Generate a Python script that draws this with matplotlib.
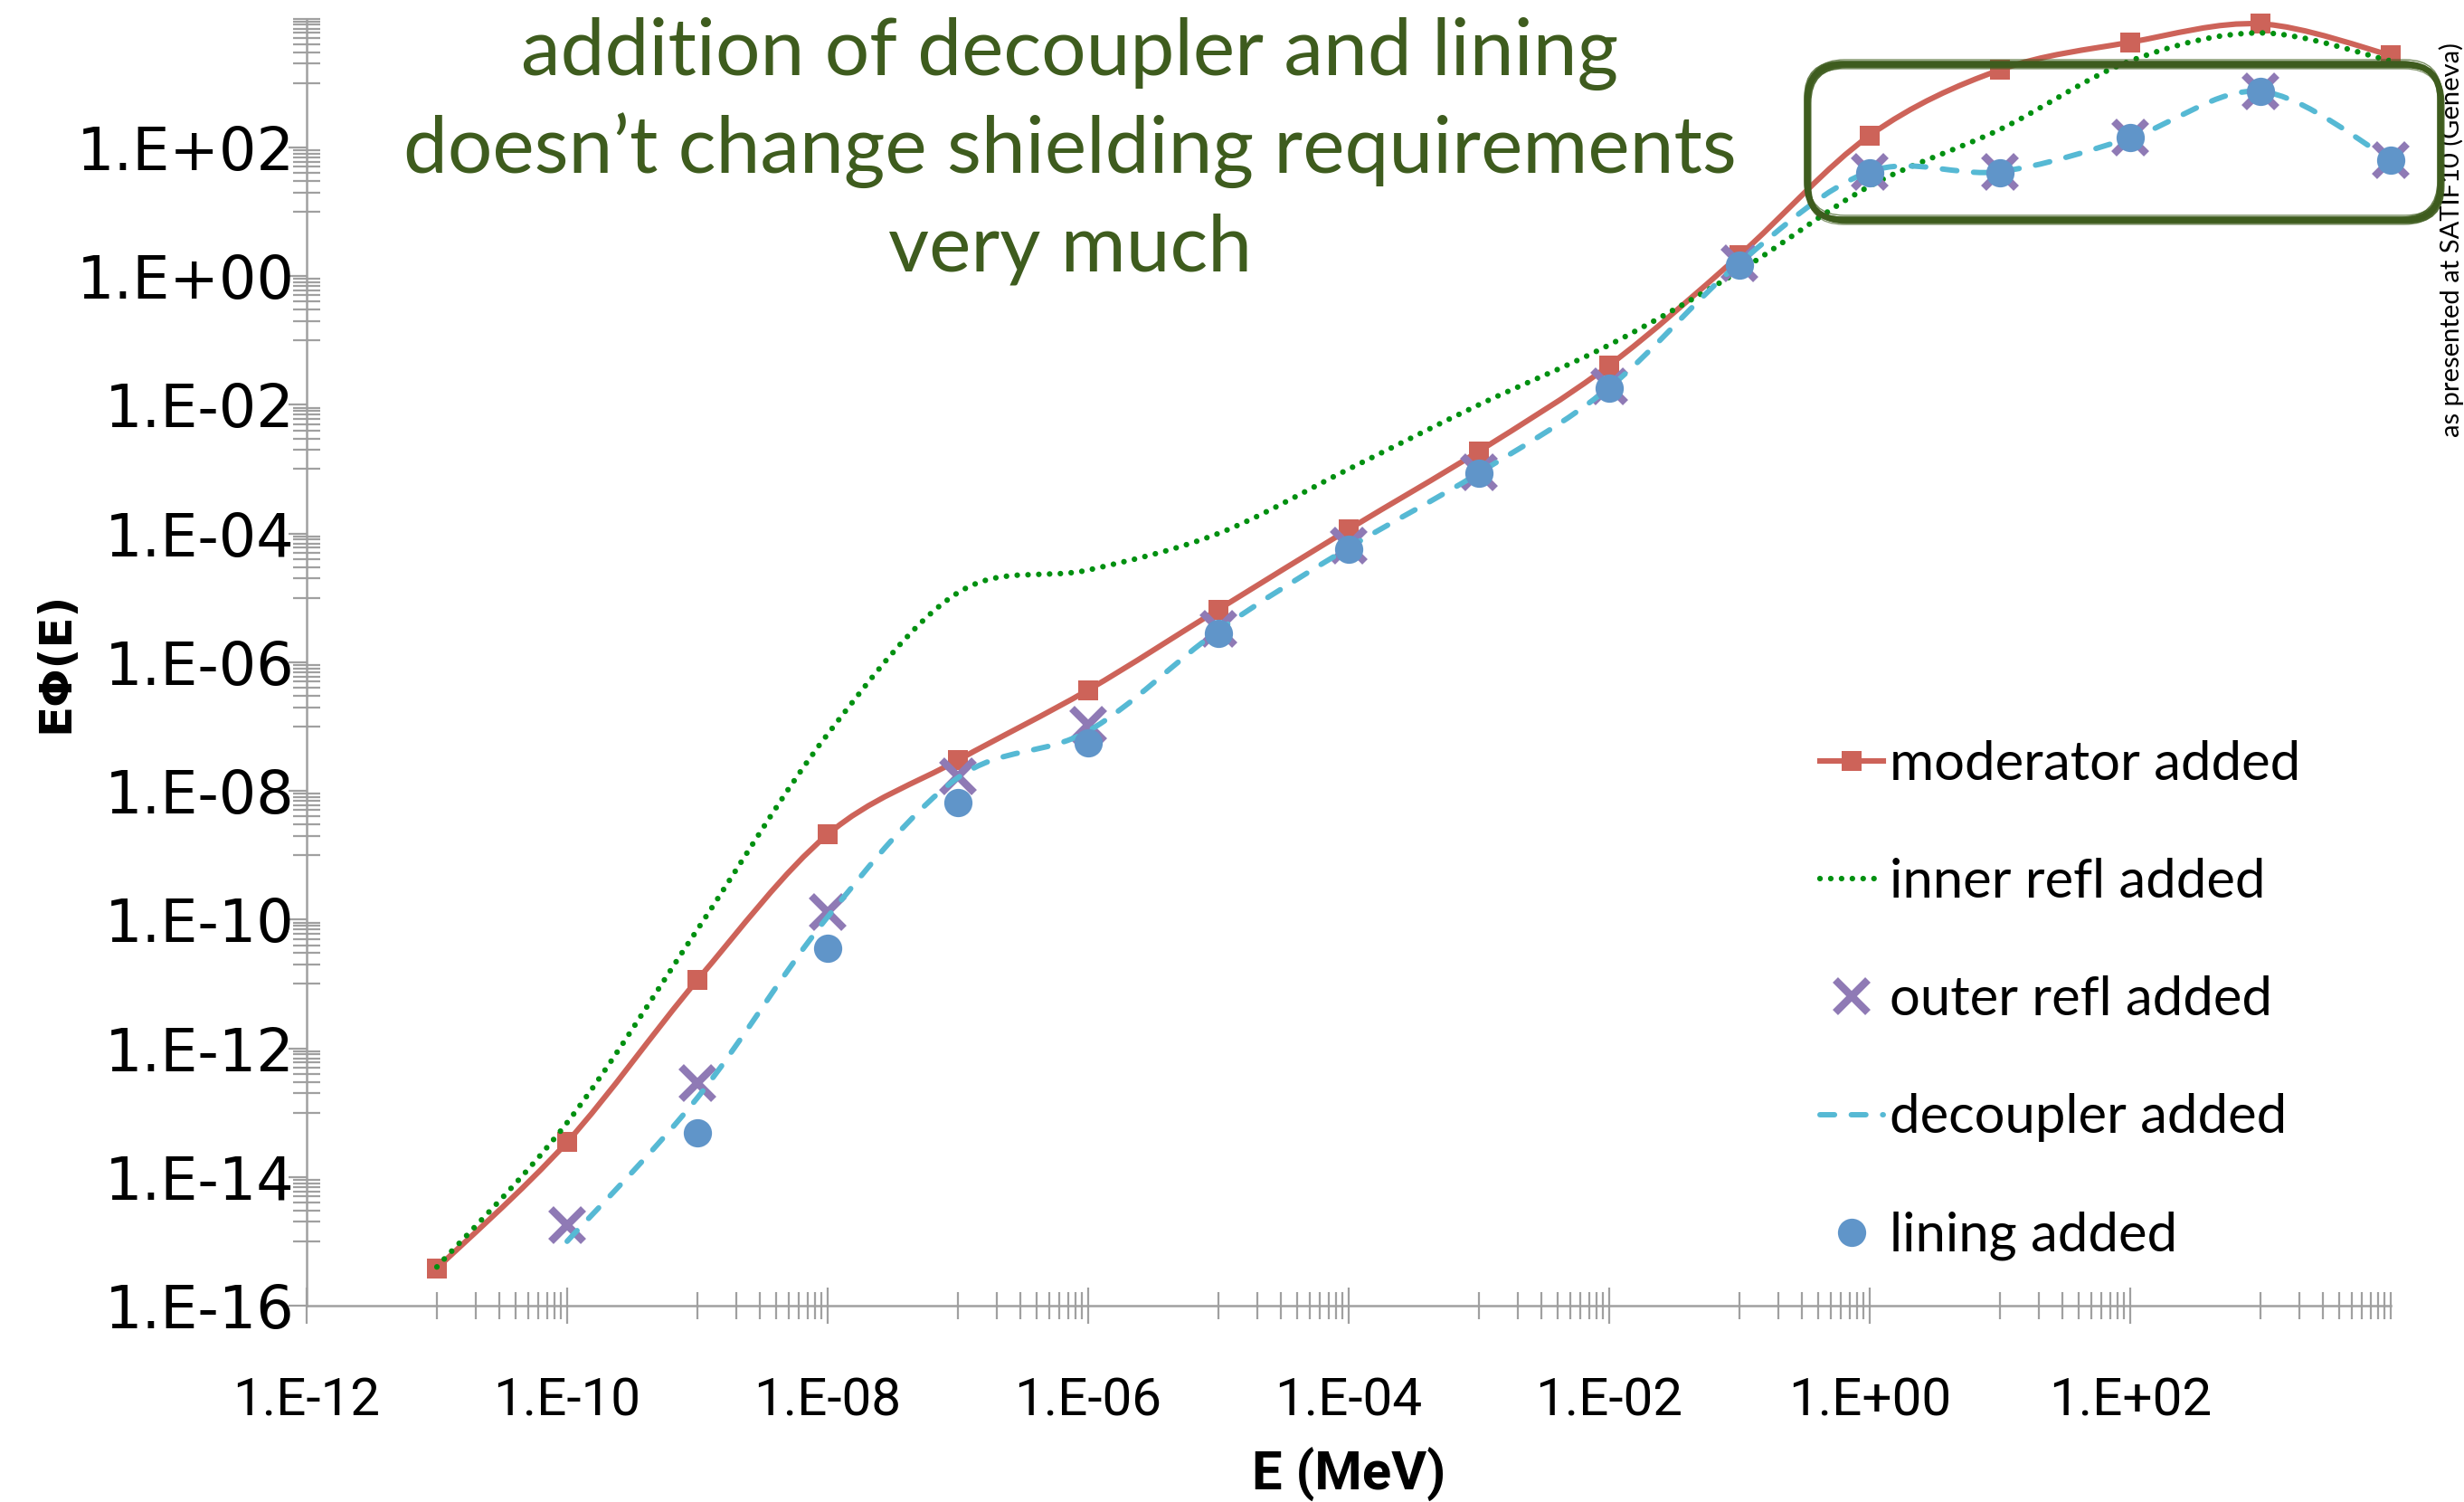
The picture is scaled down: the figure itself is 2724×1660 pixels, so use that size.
import numpy as np
import matplotlib
matplotlib.use("Agg")
import matplotlib.pyplot as plt
from matplotlib.path import Path
from matplotlib.patches import PathPatch, FancyBboxPatch
from matplotlib.lines import Line2D
import matplotlib.transforms as mtransforms
from matplotlib.ticker import FixedLocator, NullFormatter

# ---------------- data ----------------
energy = [1e-11, 1e-10, 1e-9, 1e-8, 1e-7, 1e-6, 1e-5, 1e-4,
          1e-3, 1e-2, 1e-1, 1e0, 1e1, 1e2, 1e3, 1e4]
moderator = [3.8e-16, 3.5e-14, 1.15e-11, 2.1e-9, 3.0e-8, 3.7e-7, 6.6e-6, 1.16e-4,
             1.9e-3, 4.1e-2, 2.1, 153, 1.6e3, 4.3e3, 8.3e3, 2.7e3]
inner_refl = [4.0e-16, 7.0e-14, 7.0e-11, 7.6e-8, 1.2e-5, 2.7e-5, 1.0e-4, 1.0e-3,
              1.0e-2, 8.5e-2, 1.2, 25, 190, 2.2e3, 6.0e3, 2.2e3]
energy_outer = [1e-10, 1e-9, 1e-8, 1e-7, 1e-6, 1e-5, 1e-4,
                1e-3, 1e-2, 1e-1, 1e0, 1e1, 1e2, 1e3, 1e4]
outer_refl = [1.8e-15, 2.9e-13, 1.3e-10, 1.7e-8, 1.05e-7, 3.3e-6, 6.5e-5,
              9.0e-4, 1.9e-2, 1.6, 42, 42, 140, 750, 64]
energy_decoupler = [1e-10, 1e-9, 1e-8, 1e-7, 1e-6, 1e-5, 1e-4,
                    1e-3, 1e-2, 1e-1, 1e0, 1e1, 1e2, 1e3, 1e4]
decoupler = [1.0e-15, 1.7e-13, 1.1e-10, 1.6e-8, 8.5e-8, 3.1e-6, 6.0e-5,
             8.7e-4, 1.85e-2, 1.6, 42, 42, 140, 740, 64]
energy_lining = [1e-9, 1e-8, 1e-7, 1e-6, 1e-5, 1e-4,
                 1e-3, 1e-2, 1e-1, 1e0, 1e1, 1e2, 1e3, 1e4]
lining = [4.8e-14, 3.6e-11, 6.5e-9, 5.5e-8, 2.8e-6, 5.6e-5,
          8.5e-4, 1.8e-2, 1.5, 40, 40, 140, 730, 64]

series_names = ["moderator added", "inner refl added", "outer refl added",
                "decoupler added", "lining added"]
x_tick_values = [1e-12, 1e-10, 1e-8, 1e-6, 1e-4, 1e-2, 1e0, 1e2]
x_tick_labels = ["1.E-12", "1.E-10", "1.E-08", "1.E-06", "1.E-04",
                 "1.E-02", "1.E+00", "1.E+02"]
y_tick_values = [1e-16, 1e-14, 1e-12, 1e-10, 1e-8, 1e-6, 1e-4, 1e-2, 1e0, 1e2]
y_tick_labels = ["1.E-16", "1.E-14", "1.E-12", "1.E-10", "1.E-08", "1.E-06",
                 "1.E-04", "1.E-02", "1.E+00", "1.E+02"]
title_lines = ["addition of decoupler and lining",
               "doesn\u2019t change shielding requirements",
               "very much"]
side_note = "as presented at SATIF10 (Geneva)"

# ---------------- styles ----------------
RED = "#CD6359"
GREEN = "#009010"
PURPLE = "#8F7AB5"
CYAN = "#56B9D4"
BLUE = "#6095C9"
GRAY = "#A0A0A0"
TITLE_GREEN = "#3E5C1E"
W, H = 2724, 1660
DPI = 100

fig = plt.figure(figsize=(W / DPI, H / DPI), dpi=DPI)
fig.patch.set_facecolor("white")

ax_left, ax_right = 339 / W, 2643 / W
ax_bottom, ax_top = 1 - 1443 / H, 1 - 20.6 / H
ax = fig.add_axes([ax_left, ax_bottom, ax_right - ax_left, ax_top - ax_bottom])
ax.set_xscale("log")
ax.set_yscale("log")
ax.set_xlim(1e-12, 1e4)
ax.set_ylim(1e-16, 1e4)
ax.patch.set_alpha(0)


def smooth_path(x, y):
    """Excel-like smoothed line: cubic Bezier (Catmull-Rom) in log-log space."""
    P = np.column_stack([np.log10(x), np.log10(y)])
    n = len(P)
    verts = [P[0]]
    codes = [Path.MOVETO]
    for i in range(n - 1):
        p0 = P[i - 1] if i > 0 else P[i]
        p1, p2 = P[i], P[i + 1]
        p3 = P[i + 2] if i + 2 < n else P[i + 1]
        verts += [p1 + (p2 - p0) / 6.0, p2 - (p3 - p1) / 6.0, p2]
        codes += [Path.CURVE4] * 3
    return Path(10.0 ** np.array(verts), codes)


RED_LW, GREEN_LW, CYAN_LW = 4.4, 4.5, 4.3
GREEN_DOTS = (0, (0.01, 1.9))
CYAN_DASH = (0, (2.7, 3.1))
SQ_MS, X_MS, X_MEW, O_MS = 16.5, 26, 6.0, 22.5

# moderator: smoothed line + squares
ax.add_patch(PathPatch(smooth_path(energy, moderator), fill=False, edgecolor=RED,
                       lw=RED_LW, capstyle="round", joinstyle="round", zorder=3))
ax.plot(energy, moderator, linestyle="none", marker="s", ms=SQ_MS,
        mfc=RED, mec=RED, mew=0, zorder=3.1, clip_on=False)

# inner refl: dotted smoothed line
p = PathPatch(smooth_path(energy, inner_refl), fill=False, edgecolor=GREEN,
              lw=GREEN_LW, linestyle=GREEN_DOTS, zorder=4)
p.set_capstyle("round")
ax.add_patch(p)

# outer refl: x markers only
ax.plot(energy_outer, outer_refl, linestyle="none", marker="x", ms=X_MS, mew=X_MEW,
        color=PURPLE, zorder=5, clip_on=False)

# decoupler: dashed smoothed line
p = PathPatch(smooth_path(energy_decoupler, decoupler), fill=False, edgecolor=CYAN,
              lw=CYAN_LW, linestyle=CYAN_DASH, zorder=6)
p.set_capstyle("round")
ax.add_patch(p)

# lining: circles only
ax.plot(energy_lining, lining, linestyle="none", marker="o", ms=O_MS,
        mfc=BLUE, mec=BLUE, mew=0, zorder=7, clip_on=False)

# ---------------- axes / ticks ----------------
for s in ("top", "right"):
    ax.spines[s].set_visible(False)
for s in ("left", "bottom"):
    ax.spines[s].set_color(GRAY)
    ax.spines[s].set_linewidth(1.8)

x_minor = [k * 10.0 ** d for d in range(-11, 4, 2) for k in range(1, 10)] + [1e4]
y_minor = [k * 10.0 ** d for d in range(-15, 4, 2) for k in range(1, 10)] + [1e4]

ax.set_xticks(x_tick_values, labels=x_tick_labels, fontsize=42,
              fontfamily=["Roboto", "DejaVu Sans"])
ax.set_yticks(y_tick_values, labels=y_tick_labels, fontsize=47,
              fontfamily=["DejaVu Sans"])
ax.xaxis.set_minor_locator(FixedLocator(x_minor))
ax.yaxis.set_minor_locator(FixedLocator(y_minor))
ax.xaxis.set_minor_formatter(NullFormatter())
ax.yaxis.set_minor_formatter(NullFormatter())

ax.tick_params(axis="x", which="major", direction="inout", length=28.8, width=1.6,
               color=GRAY, pad=42)
ax.tick_params(axis="x", which="minor", direction="inout", length=21.6, width=1.6,
               color=GRAY)
ax.tick_params(axis="y", which="major", direction="out", length=14.4, width=1.6,
               color=GRAY, pad=-5)
ax.tick_params(axis="y", which="minor", direction="inout", length=21.6, width=1.6,
               color=GRAY)

ax.set_xlabel("E (MeV)", fontsize=43, fontweight="bold",
              fontfamily=["Roboto", "DejaVu Sans"], va="center")
ax.xaxis.set_label_coords(0.5, (1443 - 1630) / (1443 - 20.6))
ax.set_ylabel("E\u03a6(E)", fontsize=36, fontweight="bold",
              fontfamily=["DejaVu Sans"], va="center")
ax.yaxis.set_label_coords((61 - 339) / (2643 - 339), 0.5)

# ---------------- legend ----------------
handles = [
    Line2D([], [], color=RED, lw=RED_LW, marker="s", ms=SQ_MS, mfc=RED, mec=RED, mew=0),
    Line2D([], [], color=GREEN, lw=GREEN_LW, linestyle=GREEN_DOTS,
           dash_capstyle="round"),
    Line2D([], [], color=PURPLE, linestyle="none", marker="x", ms=X_MS, mew=X_MEW),
    Line2D([], [], color=CYAN, lw=CYAN_LW, linestyle=CYAN_DASH,
           dash_capstyle="round"),
    Line2D([], [], color=BLUE, linestyle="none", marker="o", ms=O_MS, mew=0),
]
fig.legend(handles, series_names, loc="upper left",
           bbox_to_anchor=(2012 / W, 1 - 818 / H), frameon=False,
           prop={"family": "Lato", "size": 43}, handlelength=1.17,
           handletextpad=0.12, labelspacing=1.275, borderpad=0, borderaxespad=0,
           numpoints=1)

# ---------------- title and notes ----------------
for line, base in zip(title_lines, [83, 191, 299]):
    fig.text(1183 / W, 1 - base / H, line, ha="center", va="baseline",
             color=TITLE_GREEN, fontsize=63, family="Lato")

fig.text(2723.5 / W, 1 - 483 / H, side_note, rotation=90, ha="right", va="bottom",
         fontsize=21, family="Lato", color="black")

# hand-drawn looking rounded box
ident = mtransforms.IdentityTransform()
bx0, bx1, btop, bbot = 1998, 2698, 71, 243
for dx, dy, lw, a in [(0, 0, 5.0, 1.0), (3, -3, 2.2, 0.9), (-3, 3, 1.2, 0.8),
                      (1, 5, 1.0, 0.7), (0, -5, 1.0, 0.6)]:
    box = FancyBboxPatch((bx0 + dx, H - bbot + dy), bx1 - bx0, bbot - btop,
                         boxstyle="round,pad=0,rounding_size=40",
                         transform=ident, fill=False, edgecolor=TITLE_GREEN,
                         lw=lw, alpha=a, zorder=10)
    fig.add_artist(box)

fig.savefig("out.png", dpi=DPI)
